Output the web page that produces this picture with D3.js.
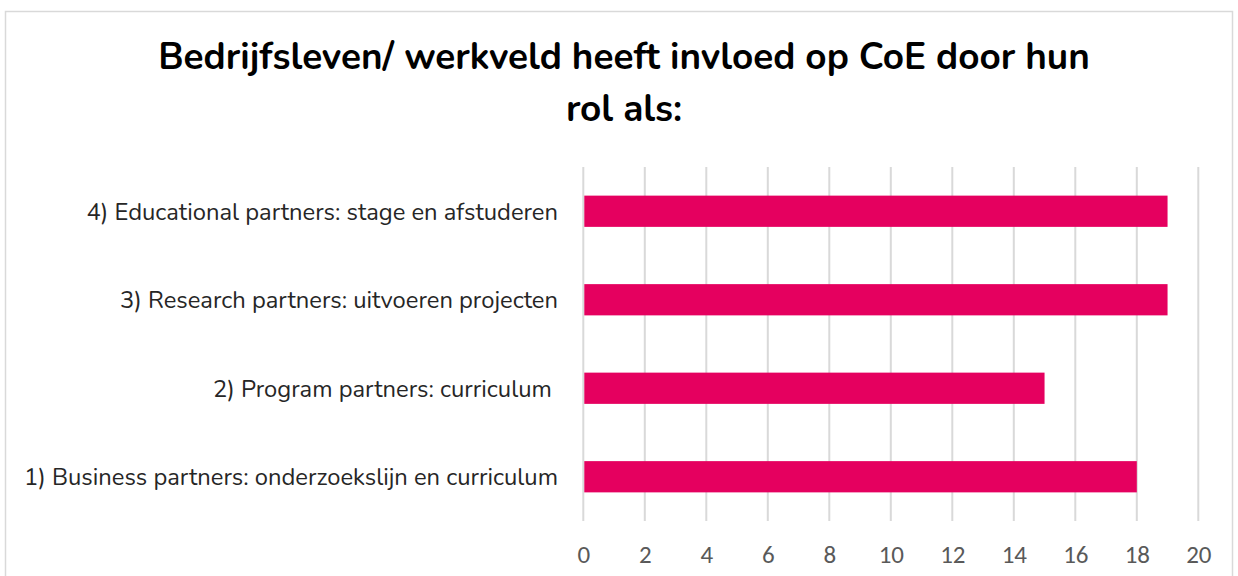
<!DOCTYPE html>
<html>
<head>
<meta charset="utf-8">
<script src="https://cdn.jsdelivr.net/npm/d3@7"></script>
<style>
  html, body { margin: 0; padding: 0; background: #fff; }
  svg { display: block; }
</style>
</head>
<body>
<svg id="chart" width="1238" height="576"></svg>
<script>
const titleLines = ["Bedrijfsleven/ werkveld heeft invloed op CoE door hun", "rol als:"];
const categories = [
  "4) Educational partners: stage en afstuderen",
  "3) Research partners: uitvoeren projecten",
  "2) Program partners: curriculum ",
  "1) Business partners: onderzoekslijn en curriculum"
];
const values = [19, 19, 15, 18];
const tickValues = [0, 2, 4, 6, 8, 10, 12, 14, 16, 18, 20];

const W = 1238, H = 576;
const svg = d3.select("#chart");
const font = "Nunito, Lato, 'Open Sans', sans-serif";

// frame
svg.append("rect")
  .attr("x", 5.5).attr("y", 11.5)
  .attr("width", 1227).attr("height", 620)
  .attr("fill", "#fff").attr("stroke", "#d9d9d9").attr("stroke-width", 1.5);

const plot = { left: 583.3, right: 1198.3, top: 167, bottom: 521 };

const x = d3.scaleLinear().domain([0, 20]).range([plot.left, plot.right]);
const y = d3.scaleBand().domain(categories).range([plot.top, plot.bottom]).paddingInner(0.647).paddingOuter(0.3235);

// gridlines
svg.append("g").selectAll("line").data(tickValues).join("line")
  .attr("x1", d => x(d)).attr("x2", d => x(d))
  .attr("y1", plot.top).attr("y2", plot.bottom)
  .attr("stroke", "#d9d9d9").attr("stroke-width", 2);

// bars
svg.append("g").selectAll("rect").data(categories).join("rect")
  .attr("x", x(0) + 1)
  .attr("y", d => y(d))
  .attr("width", (d, i) => x(values[i]) - x(0) - 1)
  .attr("height", y.bandwidth())
  .attr("fill", "#e5005f");

// x axis tick labels
const xAxis = d3.axisBottom(x).tickValues(tickValues).tickSize(0).tickPadding(0);
const gx = svg.append("g").attr("transform", `translate(0, 563)`).call(xAxis);
gx.select(".domain").remove();
gx.selectAll("text")
  .attr("dy", 0).attr("y", 0)
  .attr("font-family", "Carlito, Lato, sans-serif")
  .attr("font-size", 25)
  .attr("fill", "#595959");

// y axis labels
const yAxis = d3.axisLeft(y).tickSize(0).tickPadding(0);
const gy = svg.append("g").attr("transform", `translate(558, 0)`).call(yAxis);
gy.select(".domain").remove();
gy.selectAll("text")
  .attr("font-family", font)
  .attr("font-size", 20)
  .attr("fill", "#262626")
  .attr("dy", "0.35em")
  .style("white-space", "pre")
  .attr("xml:space", "preserve");

// fit label widths: longest label spans 24..558
const longest = gy.selectAll("text").filter(d => d === categories[3]).node();
if (longest) {
  const w = longest.getComputedTextLength();
  const fs = 20 * 534 / w;
  gy.selectAll("text").attr("font-size", fs);
}

// title
const title = svg.append("g").attr("font-family", font).attr("font-weight", "bold").attr("fill", "#000");
const baselines = [69, 121];
titleLines.forEach((t, i) => {
  title.append("text")
    .attr("x", 624).attr("y", baselines[i])
    .attr("text-anchor", "middle")
    .attr("font-size", 33)
    .text(t);
});
const t0 = title.select("text").node();
const tw = t0.getComputedTextLength();
const tfs = 33 * 932 / tw;
title.selectAll("text").attr("font-size", tfs);
</script>
</body>
</html>
